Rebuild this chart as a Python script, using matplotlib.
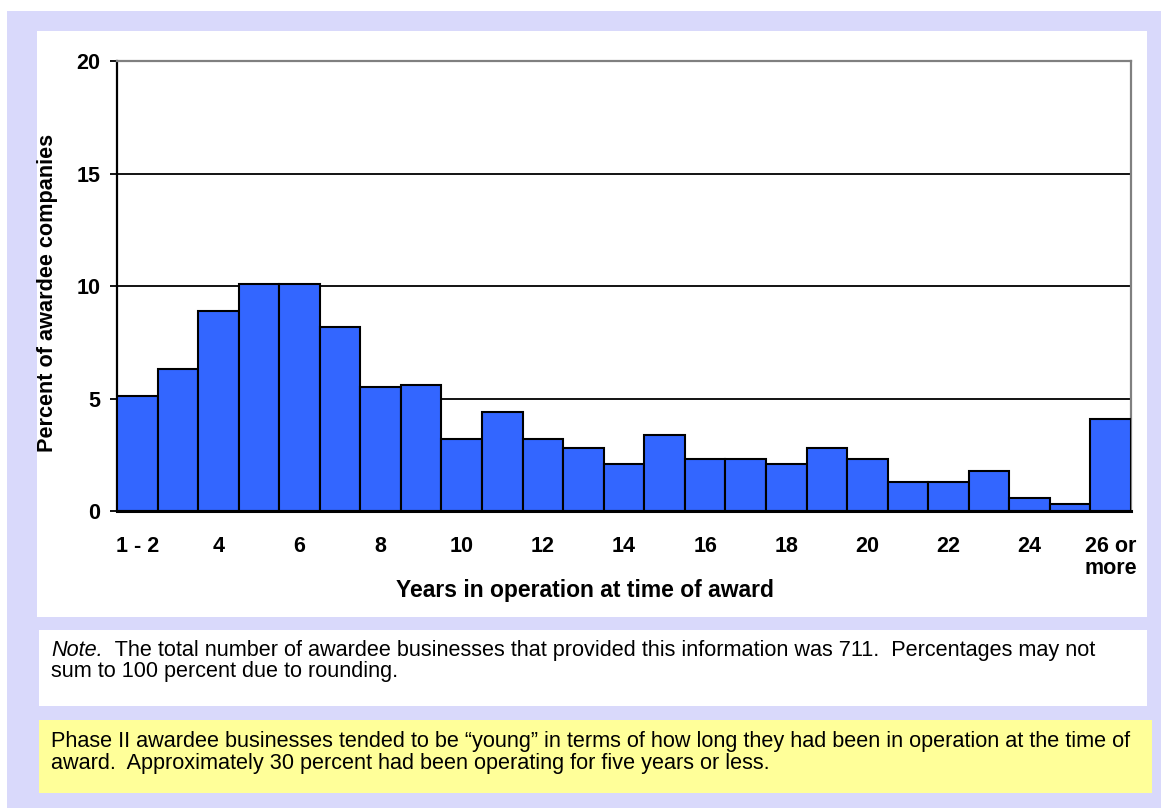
import matplotlib
matplotlib.use("Agg")
import matplotlib.pyplot as plt
from matplotlib.patches import Rectangle

categories = ["1 - 2"] + [str(i) for i in range(3, 26)] + ["26 or\nmore"]
values = [5.1, 6.3, 8.9, 10.1, 10.1, 8.2, 5.5, 5.6, 3.2, 4.4, 3.2, 2.8, 2.1,
          3.4, 2.3, 2.3, 2.1, 2.8, 2.3, 1.3, 1.3, 1.8, 0.6, 0.3, 4.1]
yticks = [0, 5, 10, 15, 20]
ylabel = "Percent of awardee companies"
xlabel = "Years in operation at time of award"
note_italic = "Note."
note_rest = "  The total number of awardee businesses that provided this information was 711.  Percentages may not"
note_line2 = "sum to 100 percent due to rounding."
summary_lines = ["Phase II awardee businesses tended to be \u201cyoung\u201d in terms of how long they had been in operation at the time of",
                 "award.  Approximately 30 percent had been operating for five years or less."]

W, H = 1166, 811
plt.rcParams['font.family'] = ['Liberation Sans', 'DejaVu Sans']
fig = plt.figure(figsize=(W / 100, H / 100), dpi=100)
fig.patch.set_facecolor("white")

def px_rect(x0, y0, x1, y1, color, z=0):
    r = Rectangle((x0 / W, 1 - y1 / H), (x1 - x0) / W, (y1 - y0) / H,
                  transform=fig.transFigure, facecolor=color, edgecolor="none", zorder=z)
    fig.add_artist(r)

lav = "#D9D9FB"
px_rect(7, 11, 1161, 808, lav, -10)
px_rect(37, 31, 1147, 617, "white", -9)
px_rect(39, 630, 1147, 706, "white", -9)
px_rect(39, 720, 1152, 793, "#FFFF99", -9)

ax = fig.add_axes([117 / W, 1 - 511 / H, (1131 - 117) / W, (511 - 61) / H])
ax.set_facecolor("white")
x = list(range(len(values)))
ax.bar(x, values, width=1.0, color="#3366FF", edgecolor="black", linewidth=1.5, zorder=3)
ax.set_xlim(-0.5, len(values) - 0.5)
ax.set_ylim(0, 20)
ax.set_yticks(yticks)
ax.set_yticklabels([str(t) for t in yticks], fontsize=15.5, fontweight="bold")
ax.set_xticks(x[::2])
ax.set_xticklabels(categories[::2], fontsize=15.5, fontweight="bold", linespacing=1.05, va="top")
ax.tick_params(axis="x", length=0, pad=18)
ax.tick_params(axis="y", length=5, width=1.3, pad=7, direction="out")
for yv in [5, 10, 15]:
    ax.axhline(yv, color="black", linewidth=1.3, zorder=1)
for s in ["top", "right"]:
    ax.spines[s].set_color("#808080")
    ax.spines[s].set_linewidth(1.6)
ax.spines["left"].set_color("black")
ax.spines["left"].set_linewidth(1.6)
ax.spines["bottom"].set_color("black")
ax.spines["bottom"].set_linewidth(2.2)
ax.spines["bottom"].set_zorder(4)

fig.text(48 / W, 1 - 293 / H, ylabel, rotation=90, ha="center", va="center",
         fontsize=15.6, fontweight="bold")
fig.text(585 / W, 1 - 590 / H, xlabel, ha="center", va="center",
         fontsize=16.5, fontweight="bold")

fs = 15.6
t1 = fig.text(51 / W, 1 - 656 / H, note_italic, fontsize=fs, style="italic", va="baseline")
fig.add_artist(matplotlib.text.Annotation(note_rest, xy=(1, 0), xycoords=t1,
                                          fontsize=fs, va="bottom", ha="left"))
fig.text(51 / W, 1 - 677 / H, note_line2, fontsize=fs, va="baseline")
fig.text(51 / W, 1 - 747 / H, summary_lines[0], fontsize=fs, va="baseline")
fig.text(51 / W, 1 - 769 / H, summary_lines[1], fontsize=fs, va="baseline")

fig.savefig("out.png", dpi=100, facecolor="white")
